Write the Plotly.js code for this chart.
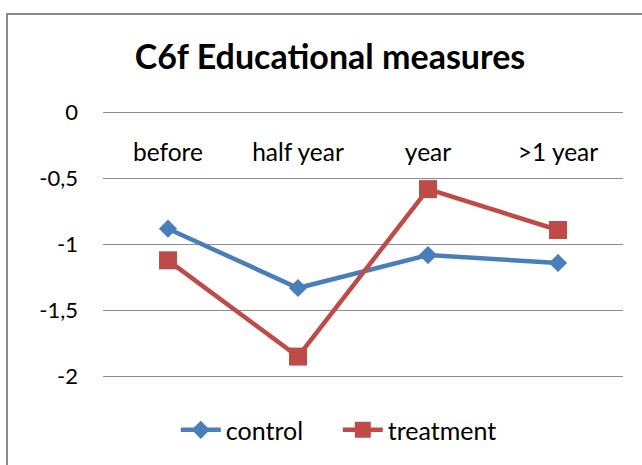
<!DOCTYPE html>
<html>
<head>
<meta charset="utf-8">
<script src="https://cdn.plot.ly/plotly-3.0.1.min.js"></script>
<style>
  html, body { margin: 0; padding: 0; background: #fff; overflow: hidden; }
  #wrap { position: relative; width: 642px; height: 465px; }
  #frame { position: absolute; left: 6px; top: 13px; width: 700px; height: 500px; border: 2px solid #8c8c8c; box-sizing: border-box; }
  #chart { position: absolute; left: 0; top: 0; width: 642px; height: 465px; }
</style>
</head>
<body>
<div id="wrap">
  <div id="frame"></div>
  <div id="chart"></div>
</div>
<script>
const categories = ["before", "half year", "year", ">1 year"];
const controlValues = [-0.88, -1.33, -1.08, -1.14];
const treatmentValues = [-1.12, -1.85, -0.58, -0.89];
const yTickVals = [0, -0.5, -1, -1.5, -2];
const yTickText = ["0", "-0,5", "-1", "-1,5", "-2"];

const FONT = "Lato, 'Open Sans', sans-serif";

const traces = [
  {
    x: categories, y: controlValues, name: "control", type: "scatter", mode: "lines+markers",
    line: { color: "#4A7EBB", width: 4.5 },
    marker: { symbol: "diamond", size: 14, color: "#4A7EBB" },
    cliponaxis: false
  },
  {
    x: categories, y: treatmentValues, name: "treatment", type: "scatter", mode: "lines+markers",
    line: { color: "#BE4B48", width: 4.5 },
    marker: { symbol: "square", size: 18, color: "#BE4B48" },
    cliponaxis: false
  }
];

const layout = {
  width: 642, height: 465,
  margin: { l: 103, r: 19, t: 110, b: 83 },
  paper_bgcolor: "rgba(0,0,0,0)",
  plot_bgcolor: "rgba(0,0,0,0)",
  font: { family: FONT, color: "#000", size: 22 },
  title: {
    text: "<b>C6f Educational measures</b>",
    font: { family: FONT, size: 34, color: "#000" },
    x: 0.514, xanchor: "center", y: 0.877, yanchor: "middle"
  },
  xaxis: {
    type: "category", range: [-0.5, 3.5],
    showgrid: false, zeroline: false, showline: false, ticks: "",
    anchor: "free", position: 0.905, side: "bottom",
    tickfont: { family: FONT, size: 24.5, color: "#000" }
  },
  yaxis: {
    range: [-2.02, 0.02], tickvals: yTickVals, ticktext: yTickText,
    showgrid: true, gridcolor: "#8c8c8c", gridwidth: 1.5,
    zeroline: false, showline: false, ticks: "", ticklen: 0,
    ticklabelstandoff: 24,
    tickfont: { family: FONT, size: 22, color: "#000" }
  },
  showlegend: true,
  legend: {
    orientation: "h", x: 0.14, xanchor: "left", y: -0.19, yanchor: "middle",
    font: { family: FONT, size: 25, color: "#000" },
    itemwidth: 40, traceorder: "normal",
    entrywidth: 107, entrywidthmode: "pixels"
  }
};

Plotly.newPlot("chart", traces, layout, { displayModeBar: false, staticPlot: true });
</script>
</body>
</html>
